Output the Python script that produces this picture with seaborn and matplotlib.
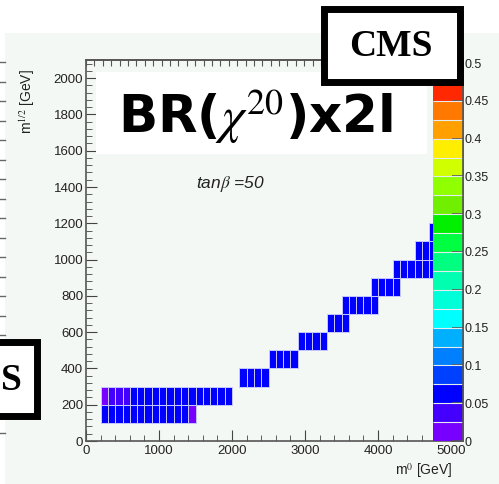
import numpy as np
import pandas as pd
import matplotlib
matplotlib.use("Agg")
import matplotlib.pyplot as plt
import seaborn as sns
from matplotlib.colors import ListedColormap, BoundaryNorm, to_rgba
from matplotlib.patches import Rectangle
from matplotlib.lines import Line2D
from matplotlib.ticker import MultipleLocator, FuncFormatter

# ---------------- data ----------------
# each row: m1/2 bin centre, first m0 bin lower edge, BR values of consecutive 100 GeV cells
row_m12 = [150, 250, 350, 450, 550, 650, 750, 850, 950, 1050, 1150]
row_m0_start = [200, 200, 2100, 2500, 2900, 3300, 3500, 3900, 4200, 4500, 4700]
row_br = [
    [0.06, 0.06, 0.06, 0.06, 0.06, 0.06, 0.06, 0.06, 0.06, 0.06, 0.06, 0.06, 0.015],
    [0.01, 0.035, 0.04, 0.04, 0.06, 0.06, 0.06, 0.06, 0.06, 0.06, 0.06, 0.06,
     0.06, 0.06, 0.06, 0.06, 0.06, 0.06],
    [0.06, 0.06, 0.06, 0.06],
    [0.06, 0.06, 0.06, 0.06],
    [0.06, 0.06, 0.06, 0.06],
    [0.06, 0.06, 0.06],
    [0.06, 0.06, 0.06, 0.06, 0.06],
    [0.06, 0.06, 0.06, 0.06],
    [0.06, 0.06, 0.06, 0.06, 0.06, 0.06],
    [0.06, 0.06, 0.06],
    [0.06],
]
palette_colors = ['#7800ff', '#4400ff', '#0000ff', '#0040ff', '#0080ff', '#00b0ff',
                  '#00ffff', '#00ffd8', '#00ffb0', '#00ff80', '#00ff40', '#00f000',
                  '#70f000', '#90ff00', '#d0ff00', '#ffee00', '#ffa000', '#ff7800',
                  '#ff2800', '#ff0000']
cb_levels = [0, 0.025, 0.05, 0.075, 0.1, 0.125, 0.15, 0.175, 0.2, 0.225, 0.25,
             0.275, 0.3, 0.325, 0.35, 0.375, 0.4, 0.425, 0.45, 0.475, 0.5]
cb_ticks = [0, 0.05, 0.1, 0.15, 0.2, 0.25, 0.3, 0.35, 0.4, 0.45, 0.5]

recs = []
for m12, start, vals in zip(row_m12, row_m0_start, row_br):
    for i, v in enumerate(vals):
        recs.append((start + 50 + 100 * i, m12, v))
df = pd.DataFrame(recs, columns=["m0", "m12", "br"])

# ---------------- figure ----------------
plt.rcParams["font.family"] = ["Liberation Sans Narrow", "Liberation Sans", "DejaVu Sans"]
plt.rcParams["mathtext.fontset"] = "stix"

W, H = 499, 484
fig = plt.figure(figsize=(W / 100, H / 100), dpi=100)
fig.patch.set_facecolor("white")
BG = "#f4f8f5"
fig.add_artist(Rectangle((5 / W, 0), 1, 1 - 33 / H, transform=fig.transFigure,
                         facecolor=BG, edgecolor="none", zorder=-10))

def fx(px):
    return px / W

def fy(py):
    return 1 - py / H

ax = fig.add_axes([fx(86), fy(441), fx(463) - fx(86), fy(60) - fy(441)])
ax.set_facecolor("none")

cmap = ListedColormap(palette_colors)
norm = BoundaryNorm(cb_levels, cmap.N)

sns.histplot(data=df, x="m0", y="m12", weights="br", binwidth=100,
             binrange=((0, 5000), (0, 1300)), cmap=cmap, ax=ax, linewidth=0.7)
mesh = ax.collections[0]
mesh.set_norm(norm)
# thin light seams only around filled cells
mask = np.ma.getmaskarray(mesh.get_array()).ravel()
ec = np.tile(np.array(to_rgba("#c4c4ff")), (mask.size, 1))
ec[mask, 3] = 0.0
mesh.set_edgecolor(ec)

ax.set_xlim(0, 5164)
ax.set_ylim(0, 2100)
ax.set_xlabel("")
ax.set_ylabel("")
ax.xaxis.set_major_locator(MultipleLocator(1000))
ax.xaxis.set_minor_locator(MultipleLocator(200))
ax.yaxis.set_major_locator(MultipleLocator(200))
ax.yaxis.set_minor_locator(MultipleLocator(40))
ax.tick_params(which="both", direction="in", color="#444444", labelsize=9.5,
               top=False, right=False, labelcolor="#222222")
ax.tick_params(axis="y", which="major", length=8, pad=2)
ax.tick_params(axis="x", which="major", length=8, pad=3)
ax.tick_params(which="minor", length=4)
for s in ax.spines.values():
    s.set_color("#555555")
    s.set_linewidth(1.2)

sec = ax.secondary_xaxis("top")
sec.xaxis.set_major_locator(MultipleLocator(115))
sec.tick_params(direction="in", length=4, labeltop=False, color="#555555")
sec.spines["top"].set_color("#555555")
sec.spines["top"].set_linewidth(1.2)

# colour palette axis
cax = fig.add_axes([fx(433), fy(441), fx(463) - fx(433), fy(63) - fy(441)])
cb = fig.colorbar(mesh, cax=cax, drawedges=True, ticks=cb_ticks)
cb.outline.set_visible(False)
cb.dividers.set_color("#e4ecf0")
cb.dividers.set_linewidth(0.8)
cb.ax.minorticks_off()
cb.ax.yaxis.set_ticks_position("right")
cb.ax.tick_params(direction="in", length=8, width=1.2, color="#555555",
                  labelsize=9, pad=1, labelcolor="#222222")
cb.ax.yaxis.set_major_formatter(FuncFormatter(lambda v, p: f"{v:g}"))
cb.ax.plot([1, 1], [0, 1], transform=cb.ax.transAxes, color="#555555", lw=1.2,
           clip_on=False)

# axis titles
fig.text(fx(27), fy(101), "m$^{1/2}$ [GeV]", rotation=90, ha="center", va="center",
         fontsize=10, color="#222222")
fig.text(fx(452), fy(471), "m$^{0}$ [GeV]", ha="right", va="center", fontsize=10,
         color="#222222")

# edge ticks of neighbouring panel
for yy in np.arange(62, 443, 19.5):
    fig.add_artist(Line2D([0, fx(5)], [fy(yy), fy(yy)], transform=fig.transFigure,
                          color="#666666", lw=1))

# tan beta label
fig.text(fx(231), fy(188), r"tan$\beta$ =50", style="italic", ha="center",
         va="baseline", fontsize=12.5, color="#222222")

# big title box
fig.add_artist(Rectangle((fx(96), fy(154)), fx(427) - fx(96), fy(72) - fy(154),
                         transform=fig.transFigure, facecolor="white",
                         edgecolor="none", zorder=4))
fig.text(fx(118), fy(133), r"BR($\chi^{20}$)x2l", fontfamily="DejaVu Sans",
         fontweight="bold", fontsize=37, ha="left", va="baseline", zorder=5)

# CMS boxes
fig.add_artist(Rectangle((fx(323.5), fy(81.5)), fx(459.5) - fx(323.5),
                         fy(9.5) - fy(81.5), transform=fig.transFigure,
                         facecolor="white", edgecolor="black", linewidth=5, zorder=4))
fig.text(fx(391), fy(46), "CMS", fontfamily="Liberation Serif", fontweight="bold",
         fontsize=27, ha="center", va="center", zorder=5)
fig.add_artist(Rectangle((-0.05, fy(415.5)), fx(36.5) + 0.05, fy(342.5) - fy(415.5),
                         transform=fig.transFigure, facecolor="white",
                         edgecolor="black", linewidth=5, zorder=4))
fig.text(fx(1), fy(380), "S", fontfamily="Liberation Serif", fontweight="bold",
         fontsize=27, ha="left", va="center", zorder=5)

fig.savefig("out.png", dpi=100, facecolor=fig.get_facecolor())
